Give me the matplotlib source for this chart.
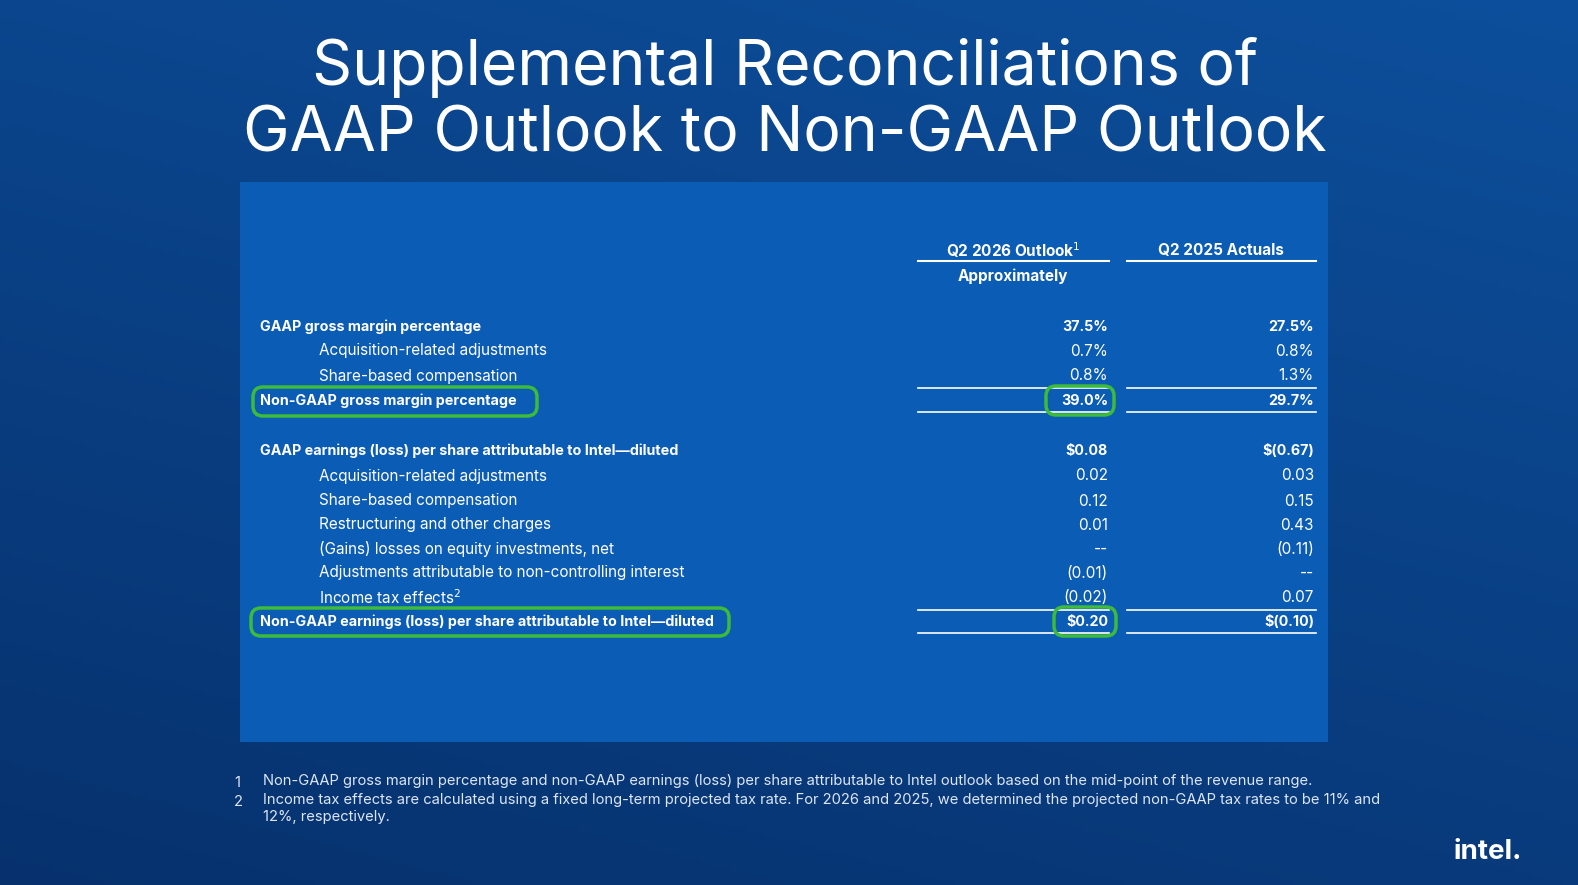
import matplotlib
matplotlib.use('Agg')
import matplotlib.pyplot as plt
import numpy as np
from matplotlib.patches import FancyBboxPatch, Rectangle

plt.rcParams['font.family'] = ['Inter', 'DejaVu Sans']

title_lines = ['Supplemental Reconciliations of', 'GAAP Outlook to Non-GAAP Outlook']
col_headers = ['Q2 2026 Outlook$^1$', 'Q2 2025 Actuals']
sub_header = 'Approximately'

row_labels = [
    'GAAP gross margin percentage',
    'Acquisition-related adjustments',
    'Share-based compensation',
    'Non-GAAP gross margin percentage',
    'GAAP earnings (loss) per share attributable to Intel\u2014diluted',
    'Acquisition-related adjustments',
    'Share-based compensation',
    'Restructuring and other charges',
    '(Gains) losses on equity investments, net',
    'Adjustments attributable to non-controlling interest',
    'Income tax effects$^2$',
    'Non-GAAP earnings (loss) per share attributable to Intel\u2014diluted',
]
outlook = ['37.5%', '0.7%', '0.8%', '39.0%', '$0.08', '0.02', '0.12', '0.01', '--',
           '(0.01)', '(0.02)', '$0.20']
actuals = ['27.5%', '0.8%', '1.3%', '29.7%', '$(0.67)', '0.03', '0.15', '0.43', '(0.11)',
           '--', '0.07', '$(0.10)']
bold_rows = [0, 3, 4, 11]
indent_rows = [1, 2, 5, 6, 7, 8, 9, 10]
row_y = [327, 351, 376, 401, 451, 476, 501, 525, 549, 573, 598, 622]

footnotes = [
    ('1', 'Non-GAAP gross margin percentage and non-GAAP earnings (loss) per share attributable to Intel outlook based on the mid-point of the revenue range.'),
    ('2', 'Income tax effects are calculated using a fixed long-term projected tax rate. For 2026 and 2025, we determined the projected non-GAAP tax rates to be 11% and\n12%, respectively.'),
]

W, H = 1578, 885
fig = plt.figure(figsize=(W / 100, H / 100), dpi=100)
ax = fig.add_axes([0, 0, 1, 1])
ax.set_xlim(0, W)
ax.set_ylim(H, 0)
ax.axis('off')

# background gradient
yy, xx = np.mgrid[0:1:200j, 0:1:300j]
t = 0.55 * yy + 0.25 * (1 - xx)
top = np.array([0x0d, 0x4f, 0x9c]) / 255
bot = np.array([0x05, 0x2a, 0x62]) / 255
img = top[None, None, :] * (1 - t[..., None]) + bot[None, None, :] * t[..., None]
ax.imshow(img, extent=[0, W, H, 0], aspect='auto', zorder=0)

ax.add_patch(Rectangle((240, 182), 1088, 560, facecolor='#0b5cb5', edgecolor='none', zorder=1))

for i, line in enumerate(title_lines):
    ax.text(785, 67 + i * 68, line, ha='center', va='center', color='white',
            fontsize=45, zorder=3)

c1, c2 = 1013, 1221
ax.text(c1, 250, col_headers[0], ha='center', va='center', color='white', fontsize=11,
        fontweight='bold', zorder=3)
ax.text(c2, 250, col_headers[1], ha='center', va='center', color='white', fontsize=11,
        fontweight='bold', zorder=3)
ax.text(c1, 276, sub_header, ha='center', va='center', color='white', fontsize=11,
        fontweight='bold', zorder=3)
for x0, x1 in [(918, 1109), (1127, 1316)]:
    ax.plot([x0, x1], [261, 261], color='white', lw=1.5, zorder=3)
    for y in [388, 412, 610, 633]:
        ax.plot([x0, x1], [y, y], color='white', lw=1.2, zorder=3)

for i, lab in enumerate(row_labels):
    y = row_y[i]
    bold = i in bold_rows
    x = 319 if i in indent_rows else 260
    fw = 'bold' if bold else 'normal'
    fs = 10.3 if bold else 11
    ax.text(x, y, lab, ha='left', va='center', color='white', fontsize=fs,
            fontweight=fw, zorder=3)
    ax.text(1108, y, outlook[i], ha='right', va='center', color='white', fontsize=fs,
            fontweight=fw, zorder=3)
    ax.text(1314, y, actuals[i], ha='right', va='center', color='white', fontsize=fs,
            fontweight=fw, zorder=3)

green = '#3dbb3a'
for (x0, y0, w, h) in [(253, 387, 284, 29), (1046, 386, 68, 29),
                       (251, 608, 478, 28), (1054, 607, 62, 29)]:
    ax.add_patch(FancyBboxPatch((x0, y0), w, h, boxstyle='round,pad=0,rounding_size=10',
                                facecolor='none', edgecolor=green, lw=2.5, zorder=4))

fy = [783, 802]
for (num, txt), y in zip(footnotes, fy):
    ax.text(234, y, num, ha='left', va='center', color='#dce6f5', fontsize=10.6, zorder=3)
    ax.text(263, y - 9, txt, ha='left', va='top', color='#dce6f5', fontsize=10.6, zorder=3,
            linespacing=1.3)

ax.text(1522, 852, 'intel.', ha='right', va='center', color='white', fontsize=20,
        fontweight='bold', zorder=3)

fig.savefig('out.png', dpi=100)
